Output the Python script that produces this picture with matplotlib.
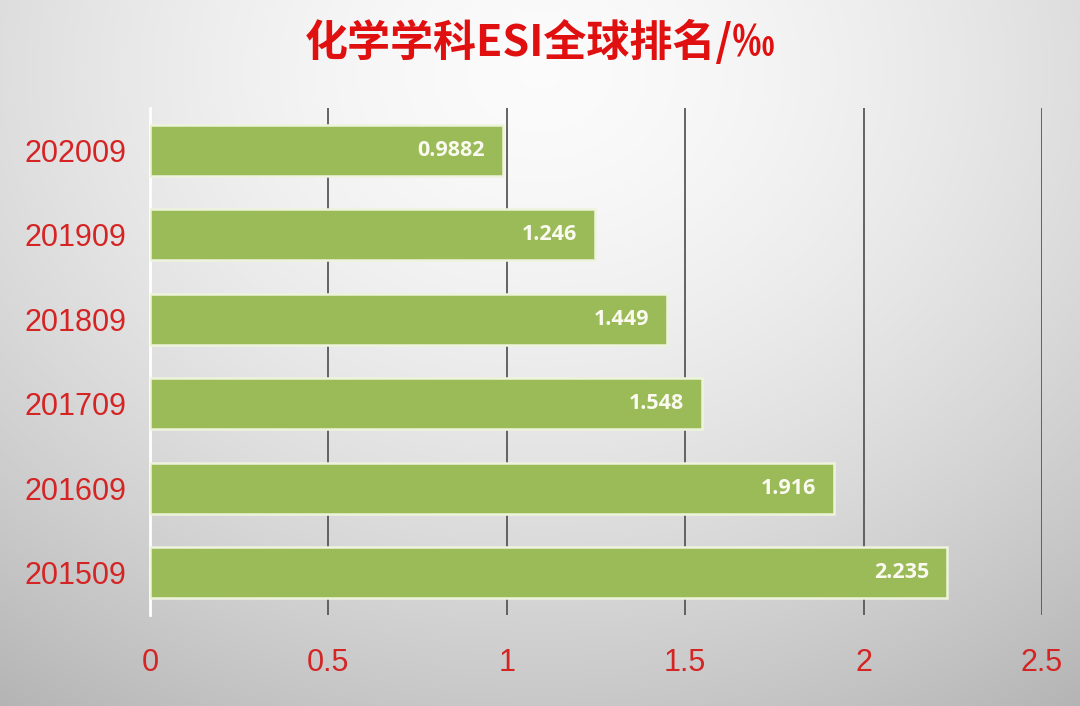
import numpy as np
import matplotlib
matplotlib.use("Agg")
import matplotlib.pyplot as plt

categories = ["201509", "201609", "201709", "201809", "201909", "202009"]
values = [2.235, 1.916, 1.548, 1.449, 1.246, 0.9882]
value_labels = ["2.235", "1.916", "1.548", "1.449", "1.246", "0.9882"]
xticks = [0, 0.5, 1, 1.5, 2, 2.5]
xtick_labels = ["0", "0.5", "1", "1.5", "2", "2.5"]
title = "化学学科ESI全球排名/‰"

fig = plt.figure(figsize=(10.8, 7.06), dpi=100)

# background radial gradient
bg = fig.add_axes([0, 0, 1, 1], zorder=-10)
yy, xx = np.mgrid[0:1:400j, 0:1:600j]
r = np.sqrt(((xx - 0.5) / 0.75) ** 2 + ((yy - 0.1) / 0.95) ** 2)
shade = np.clip(0.985 - 0.22 * r ** 1.6, 0, 1)
bg.imshow(np.dstack([shade] * 3), extent=[0, 1, 1, 0], aspect="auto", interpolation="bilinear")
bg.set_axis_off()

ax = fig.add_axes([0.1389, 0.1289, 0.8259, 0.7181])
ax.set_facecolor("none")
y = np.arange(len(categories))
bars = ax.barh(y, values, height=0.6, color="#9BBB59", edgecolor="#EEF3DC", linewidth=1.8, zorder=3)
for yi, v, lab in zip(y, values, value_labels):
    ax.annotate(lab, (v, yi), xytext=(-18, 0), textcoords="offset pixels",
                ha="right", va="center", color="#FAFAF0", fontsize=15.5, fontweight="bold",
                family="Open Sans", zorder=4)

ax.set_xlim(0, 2.5)
ax.set_ylim(-0.5, 5.5)
ax.set_xticks(xticks)
ax.set_xticklabels(xtick_labels)
ax.set_yticks(y)
ax.set_yticklabels(categories)
ax.grid(axis="x", color="#585858", linewidth=1.3, zorder=1)
ax.set_axisbelow(True)
for s in ["top", "right", "bottom"]:
    ax.spines[s].set_visible(False)
ax.spines["left"].set_color("#FFFFFF")
ax.spines["left"].set_linewidth(2)
ax.spines["left"].set_zorder(2)
ax.tick_params(axis="x", length=0, pad=24, labelsize=22, labelcolor="#D42424")
ax.tick_params(axis="y", length=0, pad=17, labelsize=22, labelcolor="#D42424")
for t in ax.get_xticklabels() + ax.get_yticklabels():
    t.set_family("Liberation Sans")

fig.text(0.5, 0.94, title, ha="center", va="center", fontsize=31, fontweight="bold",
         color="#E01010", family=["Noto Sans CJK SC", "DejaVu Sans"])

fig.savefig("out.png", dpi=100)
